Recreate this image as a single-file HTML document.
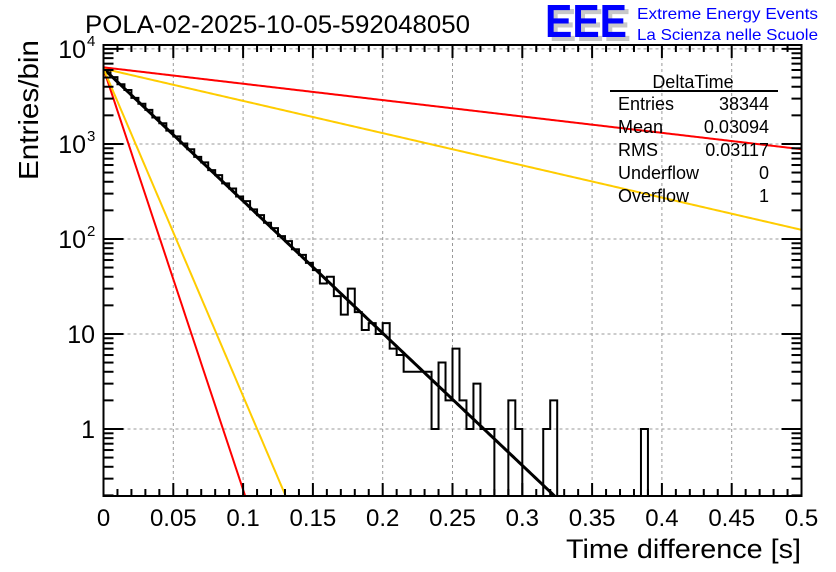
<!DOCTYPE html>
<html><head><meta charset="utf-8"><style>
body{margin:0;background:#fff;}
svg{display:block;font-family:"Liberation Sans",Arial,sans-serif;}
</style></head><body>
<svg id="chart" width="836" height="572" viewBox="0 0 836 572">
<defs><clipPath id="plotclip"><rect x="103.5" y="45" width="698" height="451"/></clipPath></defs>
<g id="grid"></g>
<g id="series" clip-path="url(#plotclip)"></g>
<g id="axes"></g>
<text x="85" y="33" font-size="25" textLength="385" lengthAdjust="spacingAndGlyphs">POLA-02-2025-10-05-592048050</text>
<g>
<text x="549" y="41" font-size="46" fill="#c8c8c8" font-weight="bold" textLength="82" lengthAdjust="spacingAndGlyphs">EEE</text>
<text x="545" y="37" font-size="46" fill="#0000ff" font-weight="bold" textLength="82" lengthAdjust="spacingAndGlyphs">EEE</text>
<text x="637" y="19" font-size="16" fill="#0000ff" textLength="181" lengthAdjust="spacingAndGlyphs">Extreme Energy Events</text>
<text x="637" y="40" font-size="16" fill="#0000ff" textLength="181" lengthAdjust="spacingAndGlyphs">La Scienza nelle Scuole</text>
</g>
<g font-size="18">
<text x="693" y="88" text-anchor="middle">DeltaTime</text>
<line x1="610" y1="91" x2="778" y2="91" stroke="#000" stroke-width="2"/>
<text x="618" y="110">Entries</text><text x="769" y="110" text-anchor="end">38344</text>
<text x="618" y="133">Mean</text><text x="769" y="133" text-anchor="end">0.03094</text>
<text x="618" y="156">RMS</text><text x="769" y="156" text-anchor="end">0.03117</text>
<text x="618" y="179">Underflow</text><text x="769" y="179" text-anchor="end">0</text>
<text x="618" y="202">Overflow</text><text x="769" y="202" text-anchor="end">1</text>
</g>
<text x="801" y="558" font-size="27" text-anchor="end" textLength="235" lengthAdjust="spacingAndGlyphs">Time difference [s]</text>
<text transform="translate(38,180) rotate(-90)" font-size="28" textLength="140" lengthAdjust="spacingAndGlyphs">Entries/bin</text>
</svg>
<script>
const binWidth = 0.005;
const counts = [5950,5050,4250,3700,3050,2650,2280,1900,1650,1380,
1200,1010,880,730,640,530,470,385,340,280,
250,205,178,148,130,107,95,78,68,56,
47,34,40,25,16,30,17,11,13,10,
13,7,6,4,4,4,4,1,5,2,
7,2,1,3,1,1,0,0,2,1,
0,0,0,1,2,0,0,0,0,0,
0,0,0,0,0,0,0,1,0,0,
0,0,0,0,0,0,0,0,0,0,
0,0,0,0,0,0,0,0,0,0];
const fitAmps = [6200,6200,6200,6200,6400];
const fitTaus = [0.0312,0.0098,0.0126,0.128,0.252];
const fitColors = ["#000000","#ff0000","#ffcc00","#ffcc00","#ff0000"];
const fitNames = ["fit-main","fit-red-steep","fit-yellow-steep","fit-yellow-shallow","fit-red-shallow"];
const xTicks = [0,0.05,0.1,0.15,0.2,0.25,0.3,0.35,0.4,0.45,0.5];
const xTickLabels = ["0","0.05","0.1","0.15","0.2","0.25","0.3","0.35","0.4","0.45","0.5"];
const yDecades = [1,10,100,1000,10000];

const X0=103.5,X1=801.5,YT=45,YB=496,XMIN=0,XMAX=0.5,YMIN=0.197,YMAX=11000;
const NS="http://www.w3.org/2000/svg";
function sx(v){return X0+(v-XMIN)/(XMAX-XMIN)*(X1-X0);}
function sy(v){if(v<=0)return YB+5;return YB-(Math.log10(v)-Math.log10(YMIN))/(Math.log10(YMAX)-Math.log10(YMIN))*(YB-YT);}
function mk(tag,attrs,parent){const e=document.createElementNS(NS,tag);for(const k in attrs)e.setAttribute(k,attrs[k]);parent.appendChild(e);return e;}
const grid=document.getElementById('grid'),series=document.getElementById('series'),axes=document.getElementById('axes');

xTicks.forEach((t,i)=>{ if(i===0||i===xTicks.length-1) return;
 const l=mk('line',{x1:sx(t),x2:sx(t),y1:YT,y2:YB,stroke:'#999','stroke-dasharray':'3,3','stroke-width':1},grid);
 
 });
yDecades.forEach(d=>{
 const l=mk('line',{x1:X0,x2:X1,y1:sy(d),y2:sy(d),stroke:'#999','stroke-dasharray':'3,3','stroke-width':1},grid);
 
 });

let d='M'+X0+','+YB;
counts.forEach((c,i)=>{const y=sy(c);d+=' L'+sx(i*binWidth)+','+y+' L'+sx((i+1)*binWidth)+','+y;});
d+=' L'+X1+','+YB;
const h=mk('path',{d:d,fill:'none',stroke:'#000','stroke-width':2},series);



fitAmps.forEach((a,k)=>{let p='';for(let j=0;j<=400;j++){const t=XMAX*j/400;const v=a*Math.exp(-t/fitTaus[k]);if(v<YMIN*0.9)break;p+=(p?' L':'M')+sx(t).toFixed(2)+','+sy(v).toFixed(2);}
 const e=mk('path',{d:p,fill:'none',stroke:fitColors[k],'stroke-width':k===0?3:2},series);
 
 });

const fr=mk('rect',{x:X0,y:YT,width:X1-X0,height:YB-YT,fill:'none',stroke:'#000','stroke-width':2},axes);


for(let i=0;i<=50;i++){const t=i*0.01;const major=(i%5===0);const len=major?13:7;const x=sx(t);
 mk('line',{x1:x,x2:x,y1:YB,y2:YB-len,stroke:'#000','stroke-width':2},axes);
 mk('line',{x1:x,x2:x,y1:YT,y2:YT+len,stroke:'#000','stroke-width':2},axes);}
xTicks.forEach((t,i)=>{const tx=mk('text',{x:sx(t),y:YB+30,'font-size':24,'text-anchor':'middle'},axes);tx.textContent=xTickLabels[i];
 
 });
for(let e=-1;e<=4;e++){for(let m=1;m<=9;m++){const v=m*Math.pow(10,e);if(v<YMIN||v>YMAX)continue;const len=m===1?20:10;const y=sy(v);
 mk('line',{x1:X0,x2:X0+len,y1:y,y2:y,stroke:'#000','stroke-width':2},axes);
 mk('line',{x1:X1,x2:X1-len,y1:y,y2:y,stroke:'#000','stroke-width':2},axes);}}
const ylab=[["1",""],["10",""],["10","2"],["10","3"],["10","4"]];
yDecades.forEach((v,i)=>{const tx=mk('text',{x:ylab[i][1]?86:95,y:sy(v)+9,'font-size':25,'text-anchor':'end'},axes);tx.textContent=ylab[i][0];
 
 
 if(ylab[i][1]){const s=mk('text',{x:87,y:sy(v)-3,'font-size':15},axes);s.textContent=ylab[i][1];
 
 }});
</script>
</body></html>
